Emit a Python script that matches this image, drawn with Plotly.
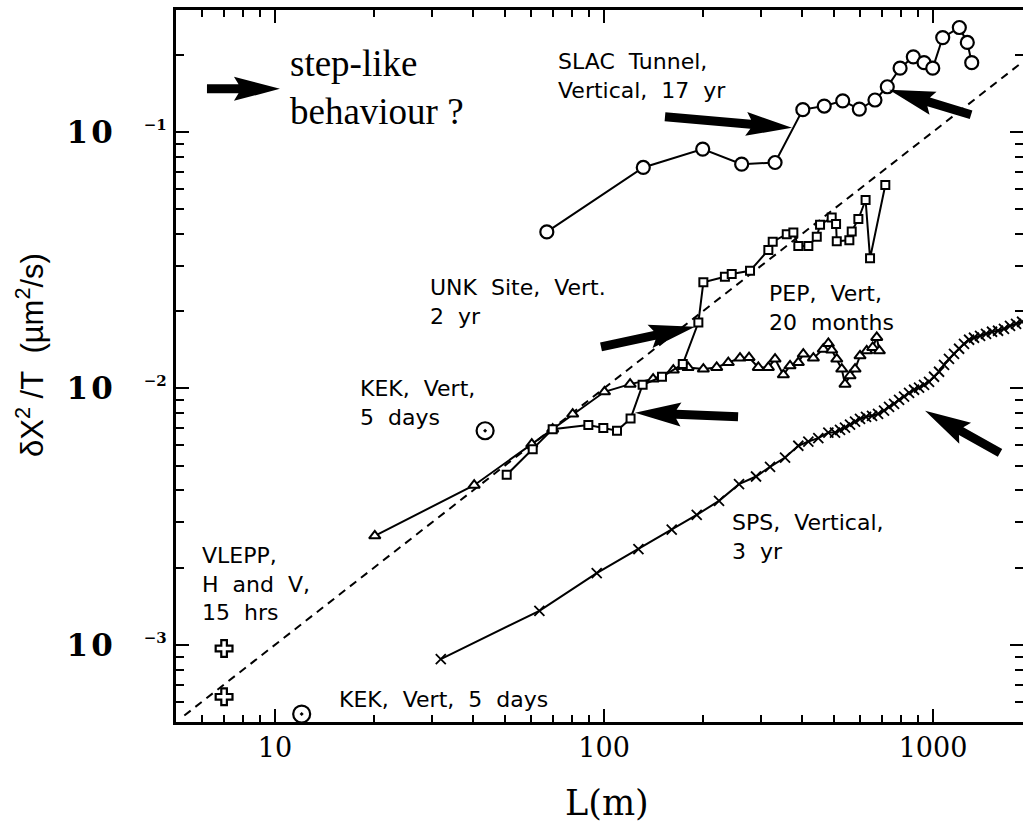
import math
import plotly.graph_objects as go

# ---- measured series: L (m) and dX^2/T (um^2/s) ----
slac_L = [67.0, 131.6, 199.5, 262, 331, 402, 467, 531.5, 597, 666, 726, 794,
          871, 939, 998, 1070, 1202, 1271, 1311]
slac_v = [0.0407, 0.0726, 0.0856, 0.0748, 0.0759, 0.122, 0.126, 0.132, 0.1226,
          0.133, 0.1498, 0.177, 0.196, 0.186, 0.177, 0.233, 0.255, 0.223, 0.186]

unk_L = [50.6, 60.7, 69.8, 89.6, 99.5, 109.5, 120.4, 131, 150, 173.5,
         193.5, 200.4, 233, 244.4, 277.8, 315.8, 325.6, 359.2, 376.2, 389.5,
         417.8, 443.2, 453.5, 492, 507.3, 509.8, 556.7, 566, 593, 623.7,
         643.5, 716]
unk_v = [0.0046, 0.00579, 0.00693, 0.00719, 0.0070, 0.00683, 0.00762, 0.01032, 0.01109, 0.01243,
         0.01805, 0.0259, 0.0272, 0.0279, 0.0287, 0.0346, 0.0373, 0.0399, 0.0405, 0.0359,
         0.0359, 0.0390, 0.0434, 0.0463, 0.0437, 0.0374, 0.0378, 0.0409, 0.0457, 0.0542,
         0.0321, 0.0620]

pep_L = [20.1, 40.3, 60.3, 69.8, 80.3, 100.3, 120, 141, 162.4, 180,
         200.4, 220, 238.6, 259, 275.9, 294.4, 315.8, 331, 350.8, 367.6,
         389.5, 403.3, 432.8, 464, 480.6, 492, 509.8, 527.9, 540, 559.4,
         579.4, 599.9, 628.7, 655.7, 674.4, 686.8]
pep_v = [0.00266, 0.00419, 0.00606, 0.00693, 0.00793, 0.00969, 0.01038, 0.01086, 0.01178, 0.01206,
         0.01188, 0.01206, 0.0126, 0.01311, 0.01318, 0.01206, 0.01206, 0.0130, 0.01129, 0.01224,
         0.0126, 0.01359, 0.01311, 0.01421, 0.01495, 0.01409, 0.0130, 0.01188, 0.01038, 0.01119,
         0.01188, 0.01338, 0.0140, 0.01442, 0.01578, 0.0140]

sps_L = [31.9, 63.6, 95.0, 127.2, 160.6, 191.3, 223.6, 257.2, 289.7, 319.6,
         355, 389.5, 417.8, 448, 480.6, 503.6,
         521.6, 540, 559.4, 579.4, 599.9, 625.6, 652.5, 680.5, 709.7, 735,
         761.3, 788.4, 816.5, 845.6, 875.6, 906.8, 939, 972.3, 1007, 1043,
         1080, 1118, 1158, 1200, 1242, 1287, 1332, 1390, 1449, 1511,
         1576, 1643, 1714, 1788, 1865]
sps_v = [0.000879, 0.001357, 0.001904, 0.00236, 0.00281, 0.00321, 0.00364, 0.00423, 0.00453, 0.00494,
         0.00537, 0.00597, 0.0062, 0.00639, 0.00672, 0.00672,
         0.00689, 0.00702, 0.00721, 0.00741, 0.0076, 0.00774, 0.00781, 0.00795, 0.00818, 0.00847,
         0.0087, 0.00902, 0.00927, 0.0096, 0.00987, 0.01005, 0.01032, 0.0106, 0.01109, 0.0116,
         0.01235, 0.01303, 0.01363, 0.01426, 0.01491, 0.01546, 0.01574, 0.01602, 0.01631, 0.01661,
         0.01676, 0.01706, 0.01752, 0.01784, 0.01817]

kek_L = [43.5, 12.05]
kek_v = [0.00683, 0.000537]

vlepp_L = [7.0, 7.0]
vlepp_v = [0.000967, 0.000627]

# reference power law (slope 1)
fit_L = [5.3, 2000]
fit_v = [5.3e-4, 0.2]

x_major = [10, 100, 1000]
x_major_text = ["10", "100", "1000"]
x_minor = [6, 7, 8, 9, 20, 30, 40, 50, 60, 70, 80, 90,
           200, 300, 400, 500, 600, 700, 800, 900]
y_major = [1e-3, 1e-2, 1e-1]
y_major_exp = ["−3", "−2", "−1"]
y_minor = [6e-4, 7e-4, 8e-4, 9e-4, 2e-3, 3e-3, 4e-3, 5e-3, 6e-3, 7e-3, 8e-3, 9e-3,
           2e-2, 3e-2, 4e-2, 5e-2, 6e-2, 7e-2, 8e-2, 9e-2, 2e-1]

# arrows: (L, value) of tail and of tip
arrow_tails = [(6.21, 0.147), (153.2, 0.1144), (1305, 0.1165),
               (97.9, 0.01451), (255.5, 0.00774), (1598, 0.0056)]
arrow_tips = [(10.35, 0.147), (372.7, 0.1036), (735, 0.1458),
              (189.1, 0.01737), (124.2, 0.00803), (945.6, 0.00817)]

# text labels: first-line anchor (L, value), nominal line spacing in px, lines
sans_labels = [
    ((71.4, 0.1825), 22.5, ["SLAC\u00a0 Tunnel,", "Vertical,\u00a0 17\u00a0 yr"]),
    ((29.2, 0.02367), 20, ["UNK\u00a0 Site,\u00a0 Vert.", "2\u00a0 yr"]),
    ((17.9, 0.00969), 22, ["KEK,\u00a0 Vert,", "5\u00a0 days"]),
    ((312.9, 0.02294), 24, ["PEP,\u00a0 Vert,", "20\u00a0 months"]),
    ((5.92, 0.002135), 23.5, ["VLEPP,", "H\u00a0 and\u00a0 V,", "15\u00a0 hrs"]),
    ((15.43, 0.000613), 22, ["KEK,\u00a0 Vert,\u00a0 5\u00a0 days"]),
    ((241.5, 0.00291), 22.5, ["SPS,\u00a0 Vertical,", "3\u00a0 yr"]),
]
serif_label = ((10.95, 0.1754), 37, ["step-like", "behaviour ?"])

# ---- geometry ----
W, H = 1023, 825
MARGIN = dict(l=176, r=0, t=10, b=103)
PW = W - MARGIN["l"] - MARGIN["r"]
PH = H - MARGIN["t"] - MARGIN["b"]
X_RANGE = [math.log10(5), math.log10(5) + PW / 329.0]
Y_RANGE = [math.log10(5e-4), math.log10(5e-4) + PH / 256.5]

SANS = "DejaVu Sans"
SERIF = "DejaVu Serif"


def to_px(L, v):
    fx = (math.log10(L) - X_RANGE[0]) / (X_RANGE[1] - X_RANGE[0])
    fy = (math.log10(v) - Y_RANGE[0]) / (Y_RANGE[1] - Y_RANGE[0])
    return MARGIN["l"] + fx * PW, MARGIN["t"] + (1 - fy) * PH


def to_paper(px, py):
    return (px - MARGIN["l"]) / PW, 1 - (py - MARGIN["t"]) / PH


def arrow_path(tail, tip, head_len=46, head_half=12, shaft=9):
    tx, ty = to_px(*tail)
    hx, hy = to_px(*tip)
    dx, dy = hx - tx, hy - ty
    n = math.hypot(dx, dy)
    ux, uy = dx / n, dy / n
    nx, ny = -uy, ux
    back = head_len * 0.9
    pts = [
        (hx, hy),
        (hx - ux * head_len + nx * head_half, hy - uy * head_len + ny * head_half),
        (hx - ux * back + nx * shaft / 2, hy - uy * back + ny * shaft / 2),
        (tx + nx * shaft / 2, ty + ny * shaft / 2),
        (tx - nx * shaft / 2, ty - ny * shaft / 2),
        (hx - ux * back - nx * shaft / 2, hy - uy * back - ny * shaft / 2),
        (hx - ux * head_len - nx * head_half, hy - uy * head_len - ny * head_half),
    ]
    paper = [to_paper(x, y) for x, y in pts]
    return "M " + " L ".join(f"{x:.5f},{y:.5f}" for x, y in paper) + " Z"


def text_block(anchor, gap, lines, family, size):
    # one wrapped annotation, centred on the middle of the nominal block
    L, v = anchor
    return dict(
        x=math.log10(L), y=math.log10(v), xref="x", yref="y",
        text="<br>".join(lines), showarrow=False, align="left",
        xanchor="left", yanchor="middle", yshift=-(len(lines) - 1) * gap / 2,
        font=dict(family=family, size=size, color="black"))


fig = go.Figure()

fig.add_trace(go.Scatter(
    x=fit_L, y=fit_v, mode="lines",
    line=dict(color="black", width=2, dash="8px,6px"), hoverinfo="skip"))

fig.add_trace(go.Scatter(
    x=slac_L, y=slac_v, mode="lines+markers", name="SLAC",
    line=dict(color="black", width=2),
    marker=dict(symbol="circle", size=13, color="white",
                line=dict(color="black", width=2.2))))

fig.add_trace(go.Scatter(
    x=pep_L, y=pep_v, mode="lines+markers", name="PEP",
    line=dict(color="black", width=2),
    marker=dict(symbol="triangle-up", size=10, color="white",
                line=dict(color="black", width=2))))

fig.add_trace(go.Scatter(
    x=unk_L, y=unk_v, mode="lines+markers", name="UNK",
    line=dict(color="black", width=2),
    marker=dict(symbol="square", size=8, color="white",
                line=dict(color="black", width=2))))

fig.add_trace(go.Scatter(
    x=sps_L, y=sps_v, mode="lines+markers", name="SPS",
    line=dict(color="black", width=2),
    marker=dict(symbol="x-thin", size=10, color="black",
                line=dict(color="black", width=1.8))))

fig.add_trace(go.Scatter(
    x=kek_L, y=kek_v, mode="markers", name="KEK",
    marker=dict(symbol="circle-dot", size=17, color="white",
                line=dict(color="black", width=2.2))))

fig.add_trace(go.Scatter(
    x=vlepp_L, y=vlepp_v, mode="markers", name="VLEPP",
    marker=dict(symbol="cross-open", size=14, color="black",
                line=dict(color="black", width=2.2))))

# carries the right-hand frame ticks
fig.add_trace(go.Scatter(x=[], y=[], yaxis="y2", showlegend=False))

annotations = [text_block(a, g, lines, SANS, 22) for a, g, lines in sans_labels]
annotations.append(text_block(*serif_label, "Liberation Serif", 37))

# axis titles
annotations.append(dict(
    x=(30 - MARGIN["l"]) / PW, y=(MARGIN["t"] + PH - 355) / PH,
    xref="paper", yref="paper", showarrow=False, textangle=-90,
    xanchor="center", yanchor="middle",
    text="δX<sup>2</sup>\u00a0/T\u00a0\u00a0(µm<sup>2</sup>/s)",
    font=dict(family="Liberation Sans", size=31, color="black")))
annotations.append(dict(
    x=(607 - MARGIN["l"]) / PW, y=(MARGIN["t"] + PH - 803) / PH,
    xref="paper", yref="paper", showarrow=False,
    xanchor="center", yanchor="middle", text="L(m)",
    font=dict(family=SERIF, size=35, color="black")))

shapes = [dict(type="path", path=arrow_path(t, p), xref="paper", yref="paper",
               fillcolor="black", line=dict(width=0))
          for t, p in zip(arrow_tails, arrow_tips)]

y_text = [f"<b>1\u200a0</b>\u2002\u2002<sup><b><span style='font-size:15px'>{e}</span></b></sup>"
          for e in y_major_exp]

axis_common = dict(type="log", showgrid=False, zeroline=False,
                   ticks="inside", tickcolor="black", tickwidth=2,
                   linecolor="black")

fig.update_layout(
    width=W, height=H, margin=MARGIN,
    paper_bgcolor="white", plot_bgcolor="white",
    showlegend=False,
    xaxis=dict(**axis_common, range=X_RANGE, showline=True, linewidth=2.5,
               mirror="ticks", ticklen=13,
               tickmode="array", tickvals=x_major, ticktext=x_major_text,
               tickfont=dict(family=SERIF, size=27, color="black"),
               minor=dict(tickmode="array", tickvals=x_minor, ticks="inside",
                          ticklen=7, tickwidth=2, tickcolor="black", showgrid=False)),
    yaxis=dict(**axis_common, range=Y_RANGE, showline=True, linewidth=3,
               mirror=False, ticklen=13,
               tickmode="array", tickvals=y_major, ticktext=y_text,
               tickfont=dict(family=SERIF, size=31, color="black"),
               minor=dict(tickmode="array", tickvals=y_minor, ticks="inside",
                          ticklen=8, tickwidth=2, tickcolor="black", showgrid=False)),
    yaxis2=dict(**axis_common, range=Y_RANGE, overlaying="y", side="right",
                showline=False, showticklabels=False, ticklen=13,
                tickmode="array", tickvals=y_major,
                minor=dict(tickmode="array", tickvals=y_minor, ticks="inside",
                           ticklen=8, tickwidth=2, tickcolor="black", showgrid=False)),
    annotations=annotations,
    shapes=shapes,
)

fig.write_html("out.html")
